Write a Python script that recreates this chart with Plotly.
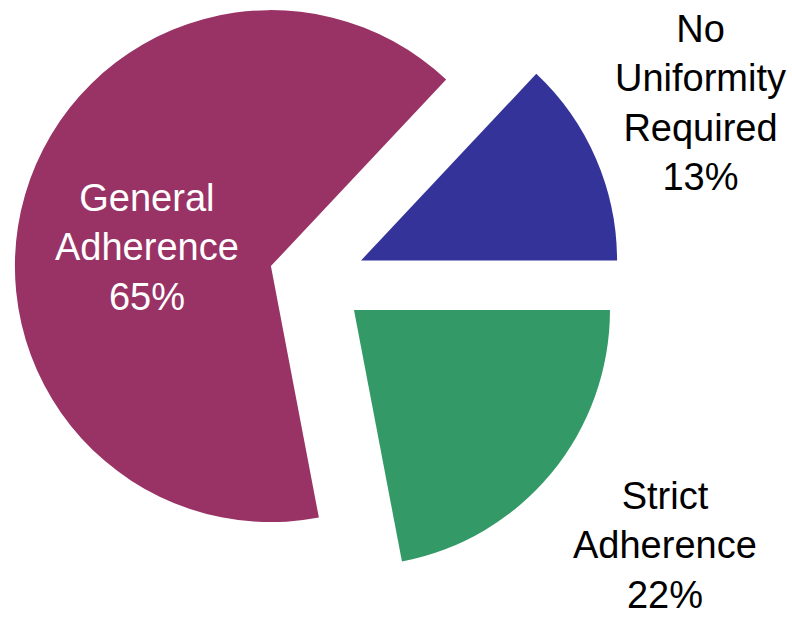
import math
import plotly.graph_objects as go

# Survey result: dress-code uniformity requirement
labels = ["No Uniformity Required", "General Adherence", "Strict Adherence"]
values = [13, 65, 22]
colors = ["#333399", "#993366", "#339966"]
label_lines = [["No", "Uniformity", "Required"], ["General", "Adherence"], ["Strict", "Adherence"]]
label_colors = ["black", "white", "black"]
label_pos_px = [(700, 103), (147, 247), (665, 545)]

W, H = 792, 617
CX, CY = 317, 279.5      # centre of the (unexploded) pie, px
R = 256                  # pie radius, px
PULL = 0.1875            # explode distance as a fraction of the radius
FONT = "Arial, 'Liberation Sans', sans-serif"

total = sum(values)
fig = go.Figure()

# Each slice is drawn as its own pie trace (visible wedge + transparent rest),
# with the trace centred on the exploded wedge's apex.
start = 0.0  # cumulative fraction, counter-clockwise from 3 o'clock
for lab, v, c in zip(labels, values, colors):
    frac = v / total
    mid = 2 * math.pi * (start + frac / 2)
    vx = CX + PULL * R * math.cos(mid)
    vy = CY - PULL * R * math.sin(mid)
    fig.add_trace(go.Pie(
        values=[v, total - v],
        labels=[lab, " "],
        marker=dict(colors=[c, "rgba(0,0,0,0)"], line=dict(width=0)),
        rotation=90 - 360 * (start + frac),
        direction="clockwise",
        sort=False,
        textinfo="none",
        hoverinfo="label+percent",
        domain=dict(x=[(vx - R) / W, (vx + R) / W],
                    y=[1 - (vy + R) / H, 1 - (vy - R) / H]),
        showlegend=False,
    ))
    start += frac

for lines, v, col, (px, py) in zip(label_lines, values, label_colors, label_pos_px):
    text = "<br>".join(lines + [f"{round(100 * v / total)}%"])
    fig.add_annotation(
        x=px / W, y=1 - py / H, xref="paper", yref="paper",
        text=text, showarrow=False, align="center",
        xanchor="center", yanchor="middle",
        font=dict(family=FONT, size=38, color=col),
    )

fig.update_layout(
    width=W, height=H,
    margin=dict(l=0, r=0, t=0, b=0),
    paper_bgcolor="white", plot_bgcolor="white",
    showlegend=False,
)

fig.write_html("out.html")
